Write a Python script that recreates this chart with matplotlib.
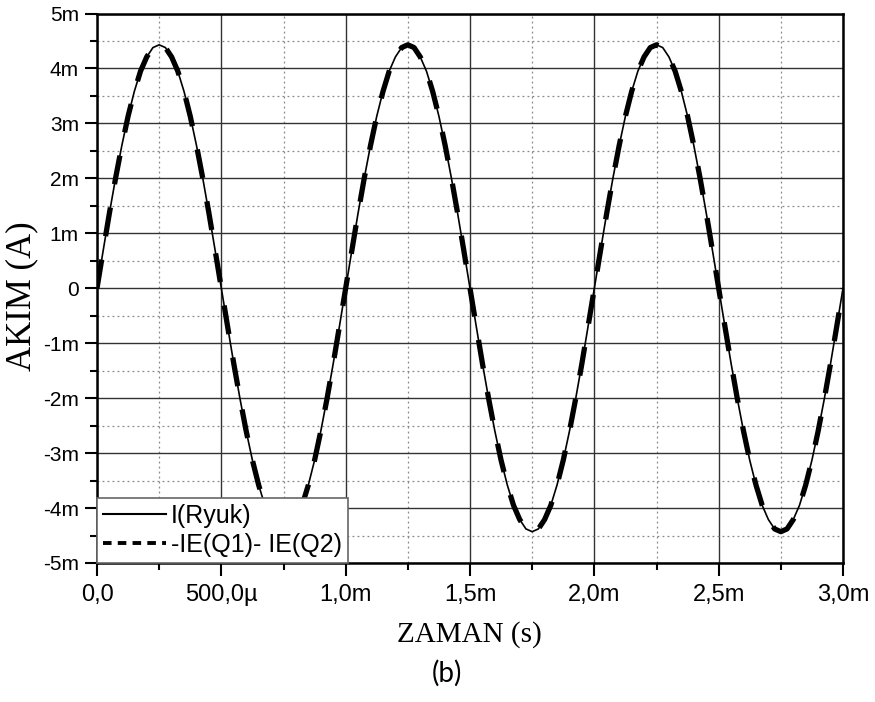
import numpy as np
import matplotlib.pyplot as plt
from matplotlib.lines import Line2D
from matplotlib.ticker import MultipleLocator, FixedLocator, FixedFormatter

# ---- data (time in ms, current in mA) ----
i_ryuk = [
    0.00, 0.69, 1.37, 2.01, 2.60, 3.13, 3.58, 3.95, 4.21, 4.38,
    4.43, 4.38, 4.21, 3.95, 3.58, 3.13, 2.60, 2.01, 1.37, 0.69,
    0.00, -0.69, -1.37, -2.01, -2.60, -3.13, -3.58, -3.95, -4.21, -4.38,
    -4.43, -4.38, -4.21, -3.95, -3.58, -3.13, -2.60, -2.01, -1.37, -0.69,
    0.00, 0.69, 1.37, 2.01, 2.60, 3.13, 3.58, 3.95, 4.21, 4.38,
    4.43, 4.38, 4.21, 3.95, 3.58, 3.13, 2.60, 2.01, 1.37, 0.69,
    0.00, -0.69, -1.37, -2.01, -2.60, -3.13, -3.58, -3.95, -4.21, -4.38,
    -4.43, -4.38, -4.21, -3.95, -3.58, -3.13, -2.60, -2.01, -1.37, -0.69,
    0.00, 0.69, 1.37, 2.01, 2.60, 3.13, 3.58, 3.95, 4.21, 4.38,
    4.43, 4.38, 4.21, 3.95, 3.58, 3.13, 2.60, 2.01, 1.37, 0.69,
    0.00, -0.69, -1.37, -2.01, -2.60, -3.13, -3.58, -3.95, -4.21, -4.38,
    -4.43, -4.38, -4.21, -3.95, -3.58, -3.13, -2.60, -2.01, -1.37, -0.69,
    0.00,
]
# the two traces lie on top of each other
ie_q1_q2 = list(i_ryuk)
t_ms = np.linspace(0.0, 3.0, len(i_ryuk))  # 25 us sample grid

series_labels = ['I(Ryuk)', '-IE(Q1)- IE(Q2)']
x_ticks = [0.0, 0.5, 1.0, 1.5, 2.0, 2.5, 3.0]
x_ticklabels = ['0,0', '500,0\u00b5', '1,0m', '1,5m', '2,0m', '2,5m', '3,0m']
y_ticks = [5, 4, 3, 2, 1, 0, -1, -2, -3, -4, -5]
y_ticklabels = ['5m', '4m', '3m', '2m', '1m', '0', '-1m', '-2m', '-3m', '-4m', '-5m']

sans = 'Liberation Sans'
serif = 'Liberation Serif'

fig = plt.figure(figsize=(8.75, 7.02), dpi=100)
ax = fig.add_axes([97 / 875, 1 - 563 / 702, (843 - 97) / 875, (563 - 13.5) / 702])

ax.plot(t_ms, ie_q1_q2, color='black', lw=3.8, dashes=(5.5, 4.5), zorder=3)
ax.plot(t_ms, i_ryuk, color='black', lw=1.2, zorder=4)

ax.set_xlim(0, 3)
ax.set_ylim(-5, 5)

ax.xaxis.set_major_locator(FixedLocator(x_ticks))
ax.xaxis.set_major_formatter(FixedFormatter(x_ticklabels))
ax.xaxis.set_minor_locator(MultipleLocator(0.25))
ax.yaxis.set_major_locator(FixedLocator(y_ticks))
ax.yaxis.set_major_formatter(FixedFormatter(y_ticklabels))
ax.yaxis.set_minor_locator(MultipleLocator(0.5))

ax.grid(which='major', color='#333333', lw=1.0, ls='-', zorder=0)
ax.grid(which='minor', color='#888888', lw=0.9, ls=(0, (1.5, 2.5)), zorder=0)
ax.set_axisbelow(True)

ax.tick_params(which='major', direction='out', length=9, width=1.5, color='black')
ax.tick_params(which='minor', direction='out', length=5, width=1.5, color='black')
ax.tick_params(axis='y', which='major', pad=4, labelsize=15)
ax.tick_params(axis='x', which='major', pad=6, labelsize=17)
for lab in ax.get_xticklabels() + ax.get_yticklabels():
    lab.set_fontfamily(sans)

for sp in ax.spines.values():
    sp.set_linewidth(1.8)
    sp.set_color('black')

handles = [
    Line2D([], [], color='black', lw=1.5),
    Line2D([], [], color='black', lw=2.8, dashes=(2.2, 1.6)),
]
leg = ax.legend(handles, series_labels, loc='lower left', borderaxespad=0,
                prop={'family': sans, 'size': 18}, handlelength=2.5,
                handletextpad=0.2, labelspacing=0.2, borderpad=0.25,
                fancybox=False, framealpha=1, edgecolor='#666666')
leg.get_frame().set_linewidth(1.2)
leg.set_zorder(10)

fig.text(22 / 875, 1 - 296 / 702, 'AKIM (A)', rotation=90, ha='center', va='center',
         family=serif, fontsize=25)
fig.text(469 / 875, 1 - 635 / 702, 'ZAMAN (s)', ha='center', va='center',
         family=serif, fontsize=21)
fig.text(447 / 875, 1 - 673 / 702, '(b)', ha='center', va='center',
         family='Lato', fontsize=20)

fig.savefig('out.png', dpi=100)
